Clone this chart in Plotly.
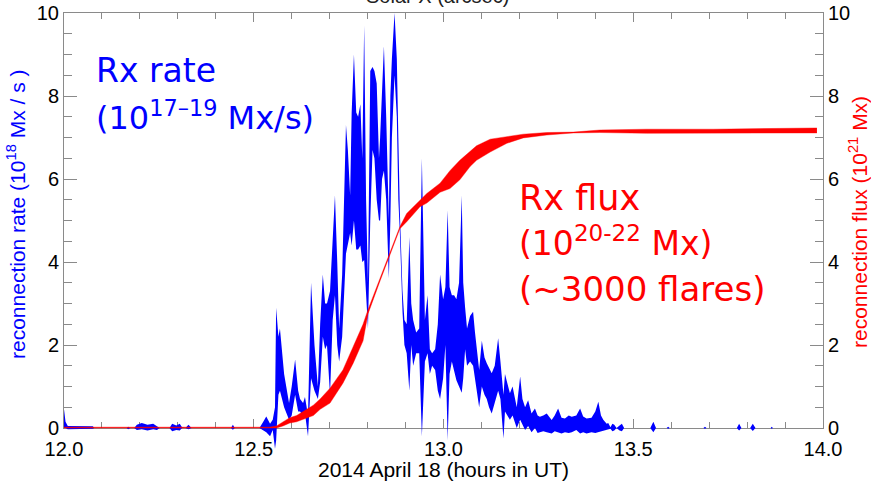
import plotly.graph_objects as go

# ---------------- data ----------------
# reconnection rate band (10^18 Mx/s): time in hours UT, lower / upper envelope
rate_time = [
    12.000, 12.004, 12.010, 12.040, 12.076, 12.080, 12.165, 12.169, 12.175, 12.185,
    12.192, 12.205, 12.220, 12.235, 12.245, 12.252, 12.278, 12.285, 12.296, 12.305,
    12.311, 12.320, 12.328, 12.336, 12.440, 12.445, 12.450, 12.515, 12.525, 12.533,
    12.543, 12.550, 12.556, 12.559, 12.565, 12.569, 12.580, 12.588, 12.593, 12.600,
    12.609, 12.617, 12.622, 12.630, 12.635, 12.643, 12.651, 12.660, 12.669, 12.675,
    12.682, 12.688, 12.693, 12.701, 12.708, 12.714, 12.720, 12.725, 12.733, 12.743,
    12.748, 12.754, 12.758, 12.764, 12.770, 12.775, 12.781, 12.786, 12.791, 12.796,
    12.801, 12.807, 12.813, 12.818, 12.824, 12.830, 12.833, 12.838, 12.843, 12.849,
    12.856, 12.860, 12.864, 12.871, 12.877, 12.881, 12.885, 12.892, 12.897, 12.903,
    12.910, 12.915, 12.920, 12.928, 12.936, 12.943, 12.951, 12.958, 12.964, 12.970,
    12.978, 12.985, 12.991, 12.999, 13.005, 13.011, 13.016, 13.022, 13.028, 13.034,
    13.041, 13.048, 13.052, 13.057, 13.062, 13.070, 13.078, 13.083, 13.087, 13.094,
    13.101, 13.108, 13.114, 13.120, 13.127, 13.135, 13.144, 13.150, 13.158, 13.162,
    13.168, 13.175, 13.182, 13.188, 13.193, 13.202, 13.208, 13.215, 13.223, 13.232,
    13.241, 13.248, 13.254, 13.263, 13.272, 13.285, 13.293, 13.302, 13.311, 13.320,
    13.330, 13.338, 13.350, 13.360, 13.368, 13.377, 13.390, 13.400, 13.408, 13.415,
    13.421, 13.430, 13.434, 13.440, 13.445, 13.450, 13.456, 13.464, 13.470, 13.476,
    13.545, 13.553, 13.560, 13.588, 13.592, 13.596, 13.685, 13.689, 13.693, 13.773,
    13.779, 13.785, 13.808, 13.815, 13.822, 13.862, 13.865, 13.868, 14.000,
]
rate_low = [
    0.00, 0.00, -0.03, -0.03, -0.02, 0.00, 0.00, -0.03, 0.00, 0.00,
    -0.05, -0.03, -0.06, -0.03, -0.05, 0.00, 0.00, -0.08, -0.05, -0.06,
    0.00, 0.00, -0.03, 0.00, 0.00, -0.04, 0.00, 0.00, -0.05, -0.10,
    -0.20, -0.05, -0.50, -0.30, 0.80, 0.90, 0.50, 0.30, 0.20, 0.30,
    0.80, 0.40, 0.40, 0.30, 0.35, -0.20, 1.20, 0.90, 0.70, 1.10,
    2.20, 1.90, 2.00, 0.80, 2.60, 3.20, 2.00, 1.60, 2.20, 4.20,
    4.40, 4.70, 4.40, 5.00, 4.30, 4.30, 4.40, 4.00, 4.05, 3.20,
    2.40, 5.00, 6.70, 6.50, 5.50, 5.00, 5.00, 6.00, 6.20, 5.50,
    3.60, 5.00, 7.00, 8.50, 7.50, 5.50, 4.70, 2.80, 2.00, 1.80,
    0.90, 2.00, 1.50, 1.80, 1.80, -0.20, 1.60, 1.80, 1.30, 1.50,
    1.40, 0.90, 0.70, 1.20, 2.00, -0.30, 1.30, 1.60, 1.40, 1.15,
    1.00, 0.85, 1.20, 1.90, 1.50, 1.60, 1.50, 1.20, 1.00, 0.50,
    1.00, 0.80, 0.70, 0.50, 0.35, 0.60, 0.90, 0.70, -0.25, 0.40,
    0.30, 0.20, 0.30, 0.10, 0.00, 0.20, 0.10, -0.05, 0.05, -0.10,
    0.00, -0.12, -0.10, -0.08, -0.10, -0.13, -0.08, -0.10, -0.13, -0.10,
    -0.12, -0.10, -0.05, -0.13, -0.10, -0.13, -0.10, -0.12, -0.10, -0.10,
    -0.08, -0.06, -0.04, -0.02, -0.08, -0.06, 0.00, -0.06, -0.08, 0.00,
    0.00, -0.10, 0.00, 0.00, -0.02, 0.00, 0.00, -0.02, 0.00, 0.00,
    -0.06, 0.00, 0.00, -0.07, 0.00, 0.00, -0.02, 0.00, 0.00,
]
rate_high = [
    0.45, 0.15, 0.05, 0.05, 0.04, 0.00, 0.00, 0.03, 0.00, 0.00,
    0.08, 0.12, 0.08, 0.10, 0.05, 0.00, 0.00, 0.10, 0.06, 0.10,
    0.02, 0.00, 0.08, 0.00, 0.00, 0.08, 0.00, 0.00, 0.15, 0.28,
    0.10, 0.20, 0.50, 2.90, 2.20, 2.40, 1.30, 0.90, 0.60, 1.00,
    1.65, 0.90, 0.70, 0.60, 0.75, 0.30, 3.50, 2.00, 1.00, 2.50,
    3.70, 3.00, 3.00, 3.30, 4.50, 5.60, 4.00, 2.40, 3.70, 7.30,
    6.70, 5.60, 7.60, 9.00, 7.60, 7.50, 7.80, 6.50, 9.70, 5.50,
    3.50, 8.60, 8.70, 8.60, 8.30, 6.50, 7.00, 8.00, 9.20, 7.50,
    5.00, 8.00, 8.90, 10.00, 8.90, 7.00, 5.20, 3.30, 2.60, 2.50,
    4.60, 3.00, 2.60, 2.30, 2.40, 6.50, 2.60, 3.20, 1.90, 1.80,
    1.90, 2.50, 3.70, 3.10, 3.40, 5.25, 3.40, 3.20, 3.20, 3.10,
    3.50, 5.60, 3.50, 2.90, 2.40, 2.70, 2.80, 2.30, 1.96, 1.40,
    2.10, 1.70, 1.56, 1.45, 1.32, 1.50, 2.16, 1.60, 0.80, 1.30,
    1.10, 0.84, 1.00, 0.70, 0.50, 1.24, 0.70, 0.50, 0.67, 0.35,
    0.47, 0.30, 0.27, 0.30, 0.35, 0.19, 0.30, 0.47, 0.25, 0.23,
    0.30, 0.27, 0.30, 0.47, 0.28, 0.23, 0.25, 0.40, 0.63, 0.30,
    0.20, 0.10, 0.12, 0.02, 0.10, 0.08, 0.00, 0.06, 0.10, 0.00,
    0.00, 0.15, 0.00, 0.00, 0.03, 0.00, 0.00, 0.03, 0.00, 0.00,
    0.10, 0.00, 0.00, 0.10, 0.00, 0.00, 0.03, 0.00, 0.00,
]

# reconnection flux band (10^21 Mx)
flux_time = [
    12.000, 12.540, 12.560, 12.577, 12.595, 12.613, 12.640, 12.657, 12.675, 12.701,
    12.735, 12.762, 12.788, 12.801, 12.833, 12.859, 12.885, 12.903, 12.938, 12.956,
    12.991, 13.017, 13.043, 13.070, 13.087, 13.123, 13.167, 13.210, 13.272, 13.342,
    13.412, 13.535, 13.711, 13.984,
]
flux_low = [
    0.00, 0.00, 0.00, 0.05, 0.12, 0.15, 0.25, 0.30, 0.45, 0.60,
    1.08, 1.56, 2.10, 2.75, 3.55, 4.18, 4.80, 4.97, 5.33, 5.42,
    5.68, 5.77, 5.98, 6.30, 6.45, 6.65, 6.86, 6.99, 7.06, 7.11,
    7.12, 7.10, 7.10, 7.11,
]
flux_high = [
    0.02, 0.02, 0.05, 0.15, 0.25, 0.30, 0.45, 0.55, 0.70, 0.96,
    1.40, 1.95, 2.50, 2.85, 3.60, 4.22, 4.85, 5.17, 5.50, 5.65,
    5.90, 6.20, 6.45, 6.66, 6.80, 6.96, 7.02, 7.08, 7.12, 7.13,
    7.18, 7.20, 7.20, 7.23,
]

x_tick_vals = [12.0, 12.5, 13.0, 13.5, 14.0]
x_tick_text = ["12.0", "12.5", "13.0", "13.5", "14.0"]
y_tick_vals = [0, 2, 4, 6, 8, 10]

# ---------------- layout geometry ----------------
W, H = 871, 489
PL, PR, PT, PB = 64, 823, 13, 428          # frame in pixels
px_per_unit = (PB - PT) / 10.0

def fx(px):
    return px / W

def fy(py):
    return 1 - py / H

BLUE = "#0000ff"
RED = "#ff0000"
GRAY = "#8a8a8a"
SANS = "Liberation Sans, Arial, sans-serif"
TICKFONT = dict(family=SANS, size=20, color="black")
CFONT = "DejaVu Sans, sans-serif"

fig = go.Figure()

# blue band (rate)
fig.add_trace(go.Scatter(x=rate_time, y=rate_low, mode="lines", line=dict(width=0, color=BLUE),
                         xaxis="x2", yaxis="y3", showlegend=False, hoverinfo="skip"))
fig.add_trace(go.Scatter(x=rate_time, y=rate_high, mode="lines", line=dict(width=0, color=BLUE),
                         fill="tonexty", fillcolor=BLUE,
                         xaxis="x2", yaxis="y3", showlegend=False, hoverinfo="skip"))
# red band (flux)
fig.add_trace(go.Scatter(x=flux_time, y=flux_low, mode="lines", line=dict(width=0.4, color=RED),
                         xaxis="x2", yaxis="y4", showlegend=False, hoverinfo="skip"))
fig.add_trace(go.Scatter(x=flux_time, y=flux_high, mode="lines", line=dict(width=0.4, color=RED),
                         fill="tonexty", fillcolor=RED,
                         xaxis="x2", yaxis="y4", showlegend=False, hoverinfo="skip"))
# empty traces so the frame axes are drawn
fig.add_trace(go.Scatter(x=[], y=[], xaxis="x", yaxis="y", showlegend=False))
fig.add_trace(go.Scatter(x=[], y=[], xaxis="x", yaxis="y2", showlegend=False))

frame_x_dom = [fx(PL), fx(PR)]
frame_y_dom = [fy(PB), fy(PT)]
yr_data = [-(H - PB) / px_per_unit, 10 + PT / px_per_unit]

fig.update_layout(
    width=W, height=H,
    margin=dict(l=0, r=0, t=0, b=0, autoexpand=False),
    paper_bgcolor="white", plot_bgcolor="rgba(0,0,0,0)",
    showlegend=False,
    xaxis=dict(domain=frame_x_dom, range=[12, 14], anchor="y", automargin=False,
               tickvals=x_tick_vals, ticktext=x_tick_text, ticklabelstandoff=3,
               ticks="inside", ticklen=9, tickcolor=GRAY, tickwidth=1,
               showline=True, linecolor=GRAY, linewidth=1, mirror="ticks",
               showgrid=False, zeroline=False, tickfont=TICKFONT,
               minor=dict(dtick=0.1, ticks="inside", ticklen=6, tickcolor=GRAY, showgrid=False)),
    yaxis=dict(domain=frame_y_dom, range=[0, 10], anchor="x", automargin=False,
               tickvals=y_tick_vals, ticks="inside", ticklen=13, tickcolor=GRAY,
               showline=True, linecolor=GRAY, linewidth=1,
               showgrid=False, zeroline=False, tickfont=TICKFONT,
               minor=dict(dtick=0.5, ticks="inside", ticklen=8, tickcolor=GRAY, showgrid=False)),
    yaxis2=dict(range=[0, 10], overlaying="y", side="right", anchor="x", automargin=False,
                tickvals=y_tick_vals, ticks="inside", ticklen=13, tickcolor=GRAY,
                showline=True, linecolor=GRAY, linewidth=1,
                showgrid=False, zeroline=False, tickfont=TICKFONT,
                minor=dict(dtick=0.5, ticks="inside", ticklen=8, tickcolor=GRAY, showgrid=False)),
    xaxis2=dict(domain=frame_x_dom, range=[12, 14], anchor="y3", visible=False, automargin=False),
    yaxis3=dict(domain=[0, 1], range=yr_data, anchor="x2", visible=False, automargin=False),
    yaxis4=dict(range=yr_data, overlaying="y3", anchor="x2", visible=False, automargin=False),
)

ann = []
# title, cut off at the top edge as in the reference
ann.append(dict(text="Solar X (arcsec)", x=fx(437), y=fy(9), xref="paper", yref="paper",
                xanchor="center", yanchor="bottom", showarrow=False,
                font=dict(family=SANS, size=20, color="#222222")))
# x axis title
ann.append(dict(text="2014 April 18 (hours in UT)", x=fx(443), y=fy(469), xref="paper", yref="paper",
                xanchor="center", yanchor="middle", showarrow=False,
                font=dict(family=SANS, size=21, color="black")))
# y axis titles
ann.append(dict(text="reconnection rate (10<sup>18</sup> Mx / s )", x=fx(16), y=fy(215),
                xref="paper", yref="paper", xanchor="center", yanchor="middle", textangle=-90,
                showarrow=False, font=dict(family=SANS, size=21, color=BLUE)))
ann.append(dict(text="reconnection flux (10<sup>21</sup> Mx)", x=fx(858), y=fy(222),
                xref="paper", yref="paper", xanchor="center", yanchor="middle", textangle=-90,
                showarrow=False, font=dict(family=SANS, size=21, color=RED)))
# in-plot labels
ann.append(dict(text="Rx rate", x=fx(94), y=fy(71), xref="paper", yref="paper",
                xanchor="left", yanchor="middle", showarrow=False,
                font=dict(family=CFONT, size=33, color=BLUE)))
ann.append(dict(text="(10<sup>17–19</sup> Mx/s)", x=fx(94), y=fy(116), xref="paper", yref="paper",
                xanchor="left", yanchor="middle", showarrow=False,
                font=dict(family=CFONT, size=32, color=BLUE)))
ann.append(dict(text="Rx flux", x=fx(517), y=fy(198), xref="paper", yref="paper",
                xanchor="left", yanchor="middle", showarrow=False,
                font=dict(family=CFONT, size=35, color=RED)))
ann.append(dict(text="(10<sup>20-22</sup> Mx)", x=fx(517), y=fy(241), xref="paper", yref="paper",
                xanchor="left", yanchor="middle", showarrow=False,
                font=dict(family=CFONT, size=33, color=RED)))
ann.append(dict(text="(~3000 flares)", x=fx(517), y=fy(289), xref="paper", yref="paper",
                xanchor="left", yanchor="middle", showarrow=False,
                font=dict(family=CFONT, size=34, color=RED)))
fig.update_layout(annotations=ann)

fig.write_html("out.html")
